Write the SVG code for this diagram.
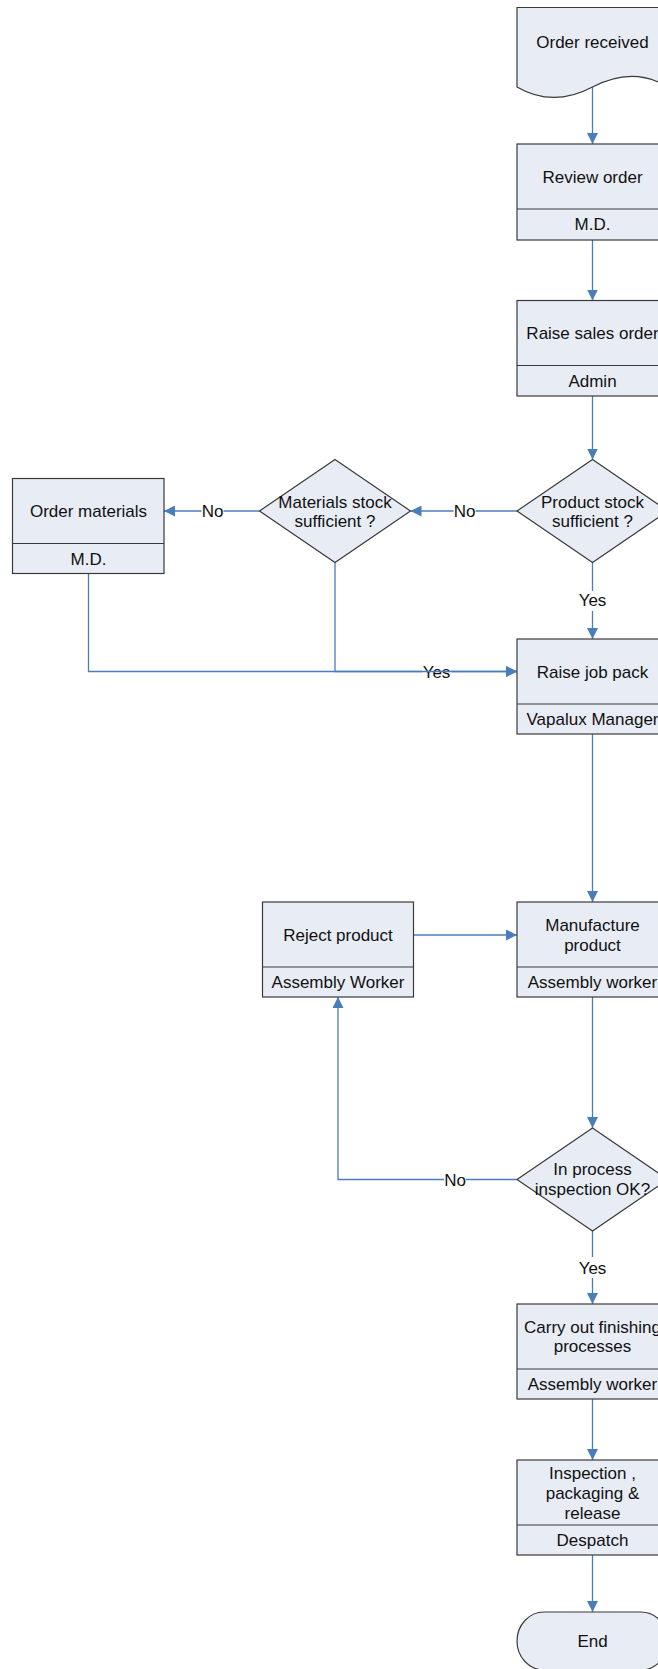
<svg xmlns="http://www.w3.org/2000/svg" width="658" height="1669" viewBox="0 0 658 1669">
  <style>
    .shape { fill: #e8ecf5; stroke: #3a3a3a; stroke-width: 1.2; }
    .div { stroke: #3a3a3a; stroke-width: 1.2; fill: none; }
    .t { font-family: "Liberation Sans", Arial, sans-serif; font-size: 17px; fill: #111; text-anchor: middle; }
    .conn { fill: none; stroke: #4a7ebb; stroke-width: 1.3; marker-end: url(#arrow); }
    .lbg { fill: #ffffff; }
  </style>
  <defs>
    <marker id="arrow" markerUnits="userSpaceOnUse" markerWidth="11" markerHeight="11" refX="11" refY="5.5" orient="auto">
      <path d="M0,0 L11,5.5 L0,11 z" fill="#4a7ebb"/>
    </marker>
  </defs>

  <rect width="658" height="1669" fill="#ffffff"/>

  <!-- connectors -->
  <g id="connectors">
    <path class="conn" d="M592.5,87 V144"/>
    <path class="conn" d="M592.5,240 V300.5"/>
    <path class="conn" d="M592.5,396 V459.5"/>
    <path class="conn" d="M517,511 H410.5"/>
    <rect class="lbg" x="453.5" y="501" width="22" height="20"/>
    <text class="t" x="464.5" y="517">No</text>
    <path class="conn" d="M259.5,511 H164"/>
    <rect class="lbg" x="201.5" y="501" width="22" height="20"/>
    <text class="t" x="212.5" y="517">No</text>
    <path class="conn" d="M592.5,562.5 V639"/>
    <rect class="lbg" x="578" y="591" width="29" height="20"/>
    <text class="t" x="592.5" y="606">Yes</text>
    <path class="conn" d="M335,562.5 V671.5 H517"/>
    <rect class="lbg" x="422" y="662" width="29" height="20"/>
    <text class="t" x="436.5" y="677.5">Yes</text>
    <path class="conn" d="M88.5,574 V671.5 H517"/>
    <path class="conn" d="M592.5,734 V902"/>
    <path class="conn" d="M413.5,935 H517"/>
    <path class="conn" d="M592.5,997 V1128"/>
    <path class="conn" d="M517,1179.5 H338 V997"/>
    <rect class="lbg" x="444" y="1169.5" width="22" height="20"/>
    <text class="t" x="455" y="1185.5">No</text>
    <path class="conn" d="M592.5,1231 V1304"/>
    <rect class="lbg" x="578" y="1257" width="29" height="21"/>
    <text class="t" x="592.5" y="1273.5">Yes</text>
    <path class="conn" d="M592.5,1399 V1460"/>
    <path class="conn" d="M592.5,1555 V1612"/>
  </g>

  <g id="order-received">
    <path class="shape" d="M517,7.5 H668 V87 C645,73 619,73 592.5,87 C566,101 541,101 517,87 Z"/>
    <text class="t" x="592.5" y="47.5">Order received</text>
  </g>

  <g id="review-order">
    <rect class="shape" x="517" y="144" width="151" height="96"/>
    <line class="div" x1="517" y1="209" x2="668" y2="209"/>
    <text class="t" x="592.5" y="182.5">Review order</text>
    <text class="t" x="592.5" y="230">M.D.</text>
  </g>

  <g id="raise-sales-order">
    <rect class="shape" x="517" y="300.5" width="151" height="95.5"/>
    <line class="div" x1="517" y1="365.5" x2="668" y2="365.5"/>
    <text class="t" x="592.5" y="339">Raise sales order</text>
    <text class="t" x="592.5" y="386.5">Admin</text>
  </g>

  <g id="product-stock">
    <polygon class="shape" points="592.5,459.5 668,511 592.5,562.5 517,511"/>
    <text class="t" x="592.5" y="507.5">Product stock</text>
    <text class="t" x="592.5" y="526.5">sufficient ?</text>
  </g>

  <g id="materials-stock">
    <polygon class="shape" points="335,459.5 410.5,511 335,562.5 259.5,511"/>
    <text class="t" x="335" y="507.5">Materials stock</text>
    <text class="t" x="335" y="526.5">sufficient ?</text>
  </g>

  <g id="order-materials">
    <rect class="shape" x="12.5" y="478.5" width="151.5" height="95"/>
    <line class="div" x1="12.5" y1="543.5" x2="164" y2="543.5"/>
    <text class="t" x="88.5" y="517">Order materials</text>
    <text class="t" x="88.5" y="564.5">M.D.</text>
  </g>

  <g id="raise-job-pack">
    <rect class="shape" x="517" y="639" width="151" height="95"/>
    <line class="div" x1="517" y1="704" x2="668" y2="704"/>
    <text class="t" x="592.5" y="677.5">Raise job pack</text>
    <text class="t" x="592.5" y="725">Vapalux Manager</text>
  </g>

  <g id="reject-product">
    <rect class="shape" x="262.5" y="902" width="151" height="95"/>
    <line class="div" x1="262.5" y1="967" x2="413.5" y2="967"/>
    <text class="t" x="338" y="940.5">Reject product</text>
    <text class="t" x="338" y="988">Assembly Worker</text>
  </g>

  <g id="manufacture-product">
    <rect class="shape" x="517" y="902" width="151" height="95"/>
    <line class="div" x1="517" y1="967" x2="668" y2="967"/>
    <text class="t" x="592.5" y="931">Manufacture</text>
    <text class="t" x="592.5" y="950.5">product</text>
    <text class="t" x="592.5" y="988">Assembly worker</text>
  </g>

  <g id="in-process-inspection">
    <polygon class="shape" points="592.5,1128 668,1179.5 592.5,1231 517,1179.5"/>
    <text class="t" x="592.5" y="1174.5">In process</text>
    <text class="t" x="592.5" y="1195">inspection OK?</text>
  </g>

  <g id="finishing-processes">
    <rect class="shape" x="517" y="1304" width="151" height="95"/>
    <line class="div" x1="517" y1="1369" x2="668" y2="1369"/>
    <text class="t" x="592.5" y="1332.5">Carry out finishing</text>
    <text class="t" x="592.5" y="1352">processes</text>
    <text class="t" x="592.5" y="1390">Assembly worker</text>
  </g>

  <g id="inspection-release">
    <rect class="shape" x="517" y="1460" width="151" height="95"/>
    <line class="div" x1="517" y1="1525" x2="668" y2="1525"/>
    <text class="t" x="592.5" y="1478.5">Inspection ,</text>
    <text class="t" x="592.5" y="1498.5">packaging &amp;</text>
    <text class="t" x="592.5" y="1518.5">release</text>
    <text class="t" x="592.5" y="1546">Despatch</text>
  </g>

  <g id="end">
    <rect class="shape" x="517" y="1612" width="151" height="58" rx="27" ry="29"/>
    <text class="t" x="592.5" y="1647">End</text>
  </g>
</svg>
